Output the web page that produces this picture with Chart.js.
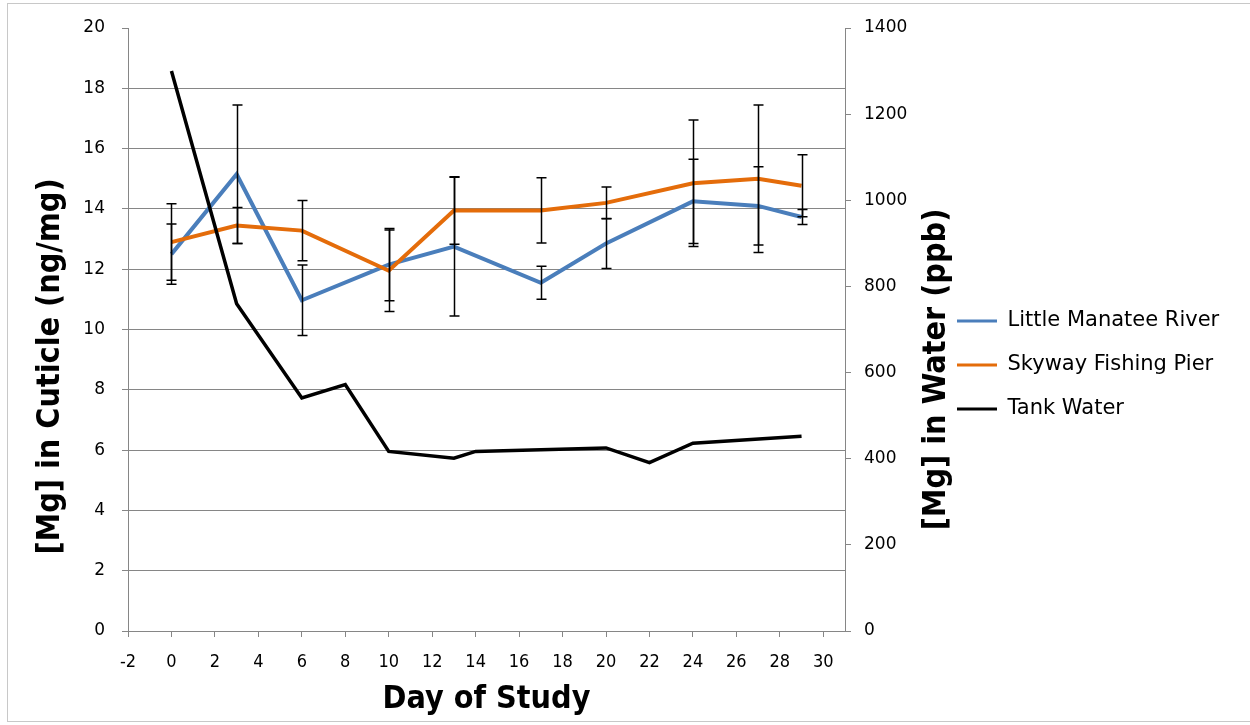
<!DOCTYPE html>
<html><head><meta charset="utf-8">
<script src="https://cdn.jsdelivr.net/npm/chart.js@4.4.1/dist/chart.umd.min.js"></script>
<style>html,body{margin:0;padding:0;background:#fff;}canvas{display:block;}</style>
</head><body>
<canvas id="c" width="1250" height="725"></canvas>
<script>
// ---- data ----
const cuticleDays = [0, 3, 6, 10, 13, 17, 20, 24, 27, 29];
const manateeValues = [12.5, 15.15, 10.97, 12.15, 12.75, 11.55, 12.85, 14.25, 14.1, 13.73];
const manateeErrors = [1.0, 2.3, 1.17, 1.2, 2.3, 0.55, 0.83, 1.4, 1.3, 0.25];
const skywayValues = [12.9, 13.45, 13.28, 11.95, 13.95, 13.95, 14.2, 14.85, 15.0, 14.77];
const skywayErrors = [1.27, 0.6, 1.0, 1.35, 1.12, 1.08, 0.53, 2.1, 2.45, 1.03];
const tankDays = [0, 3, 6, 8, 10, 13, 14, 20, 22, 24, 29];
const tankValues = [1300, 760, 541, 572, 417, 401, 417, 425, 391, 436, 452];
const seriesNames = ['Little Manatee River', 'Skyway Fishing Pier', 'Tank Water'];
const xTickValues = [-2, 0, 2, 4, 6, 8, 10, 12, 14, 16, 18, 20, 22, 24, 26, 28, 30];
const leftTickValues = [0, 2, 4, 6, 8, 10, 12, 14, 16, 18, 20];
const rightTickValues = [0, 200, 400, 600, 800, 1000, 1200, 1400];
const xTitle = 'Day of Study';
const leftTitle = '[Mg] in Cuticle (ng/mg)';
const rightTitle = '[Mg] in Water (ppb)';

const toPoints = (xs, ys) => xs.map((x, i) => ({x: x, y: ys[i]}));
const GRID = '#868686';
const TITLE_FAMILY = '"DejaVu Sans Condensed", "DejaVu Sans"';
const TITLE_FONT = {family: TITLE_FAMILY, size: 32, weight: 'bold'};

const errorBarPlugin = {
  id: 'errorBars',
  afterDatasetsDraw(chart) {
    const ctx = chart.ctx;
    ctx.save();
    ctx.strokeStyle = '#000';
    ctx.lineWidth = 1.5;
    chart.data.datasets.forEach((ds) => {
      if (!ds.errors) return;
      const xs = chart.scales[ds.xAxisID || 'x'];
      const ys = chart.scales[ds.yAxisID || 'y'];
      ds.data.forEach((p, i) => {
        const e = ds.errors[i];
        const px = Math.round(xs.getPixelForValue(p.x)) + 0.5;
        const top = ys.getPixelForValue(p.y + e);
        const bot = ys.getPixelForValue(p.y - e);
        ctx.beginPath();
        ctx.moveTo(px, top); ctx.lineTo(px, bot);
        ctx.moveTo(px - 5, top); ctx.lineTo(px + 5, top);
        ctx.moveTo(px - 5, bot); ctx.lineTo(px + 5, bot);
        ctx.stroke();
      });
    });
    ctx.restore();
  }
};

function drawVerticalTitle(ctx, text, cx, cy) {
  ctx.save();
  ctx.translate(cx, cy);
  ctx.rotate(-Math.PI / 2);
  ctx.fillStyle = '#000';
  ctx.font = 'bold 32px ' + TITLE_FAMILY;
  ctx.textAlign = 'center';
  ctx.textBaseline = 'middle';
  ctx.fillText(text, 0, 0);
  ctx.restore();
}

const framePlugin = {
  id: 'frame',
  beforeInit(chart) {
    const lg = chart.legend;
    if (lg && !lg._patched) {
      const orig = lg.fit;
      lg.fit = function() { orig.call(this); this.width = 316; };
      lg._patched = true;
    }
  },
  afterLayout(chart) {
    if (chart.legend) { chart.legend.top = 5; chart.legend.bottom = 725; }
  },
  afterDraw(chart) {
    const ctx = chart.ctx;
    ctx.save();
    ctx.strokeStyle = '#c8c8c8';
    ctx.lineWidth = 1;
    ctx.strokeRect(7.5, 3.5, 1260, 718);
    ctx.restore();
    const area = chart.chartArea;
    const midY = (area.top + area.bottom) / 2 + 37;
    drawVerticalTitle(ctx, leftTitle, chart.scales.y.left + 51, midY);
    drawVerticalTitle(ctx, rightTitle, chart.scales.y2.left + 92, midY + 3);
  }
};

new Chart(document.getElementById('c'), {
  type: 'scatter',
  data: {
    datasets: [
      {label: seriesNames[0], data: toPoints(cuticleDays, manateeValues), errors: manateeErrors,
       borderColor: '#4A7EBB', backgroundColor: '#4A7EBB', borderWidth: 4, showLine: true,
       pointRadius: 0, yAxisID: 'y', order: 2},
      {label: seriesNames[1], data: toPoints(cuticleDays, skywayValues), errors: skywayErrors,
       borderColor: '#E46C0A', backgroundColor: '#E46C0A', borderWidth: 4, showLine: true,
       pointRadius: 0, yAxisID: 'y', order: 1},
      {label: seriesNames[2], data: toPoints(tankDays, tankValues),
       borderColor: '#000000', backgroundColor: '#000000', borderWidth: 3.5, showLine: true,
       pointRadius: 0, yAxisID: 'y2', order: 0}
    ]
  },
  options: {
    responsive: false,
    devicePixelRatio: 1,
    animation: false,
    events: [],
    layout: {padding: {left: 0, right: 0, top: 28, bottom: 0}},
    plugins: {
      tooltip: {enabled: false},
      legend: {
        position: 'right',
        align: 'center',
        labels: {
          font: {family: '"DejaVu Sans"', size: 21},
          color: '#000',
          boxWidth: 40,
          boxHeight: 3,
          padding: 23,
          sort: (a, b) => a.datasetIndex - b.datasetIndex,
          generateLabels: (chart) => Chart.defaults.plugins.legend.labels.generateLabels(chart)
            .map(l => Object.assign(l, {lineWidth: 0, fillStyle: l.strokeStyle}))
        }
      }
    },
    scales: {
      x: {
        type: 'linear', position: 'bottom', min: -2, max: 31,
        afterBuildTicks: (s) => { s.ticks = xTickValues.map(v => ({value: v})); },
        afterFit: (s) => { s.height = 94; },
        ticks: {font: {family: '"DejaVu Sans Condensed", "DejaVu Sans"', size: 18}, color: '#000',
                padding: 15, maxRotation: 0, autoSkip: false, callback: (v) => String(v)},
        grid: {drawOnChartArea: false, drawTicks: true, tickLength: 6, tickColor: GRID, color: GRID},
        border: {color: GRID, width: 1},
        title: {display: true, text: xTitle, font: TITLE_FONT, color: '#000', padding: {top: 0, bottom: 6}}
      },
      y: {
        type: 'linear', position: 'left', min: 0, max: 20,
        afterBuildTicks: (s) => { s.ticks = leftTickValues.map(v => ({value: v})); },
        afterFit: (s) => { s.width = 128; },
        ticks: {font: {family: '"DejaVu Sans"', size: 17}, color: '#000', padding: 17, callback: (v) => String(v)},
        grid: {color: (c) => (c.tick && c.tick.value === 20) ? 'rgba(0,0,0,0)' : GRID,
               tickColor: GRID, tickLength: 6, lineWidth: 1},
        border: {color: GRID, width: 1}
      },
      y2: {
        type: 'linear', position: 'right', min: 0, max: 1400,
        afterBuildTicks: (s) => { s.ticks = rightTickValues.map(v => ({value: v})); },
        afterFit: (s) => { s.width = 89; },
        ticks: {font: {family: '"DejaVu Sans"', size: 17}, color: '#000', padding: 13, callback: (v) => String(v)},
        grid: {drawOnChartArea: false, tickColor: GRID, tickLength: 6, color: GRID},
        border: {color: GRID, width: 1}
      }
    }
  },
  plugins: [errorBarPlugin, framePlugin]
});
</script>
</body></html>
